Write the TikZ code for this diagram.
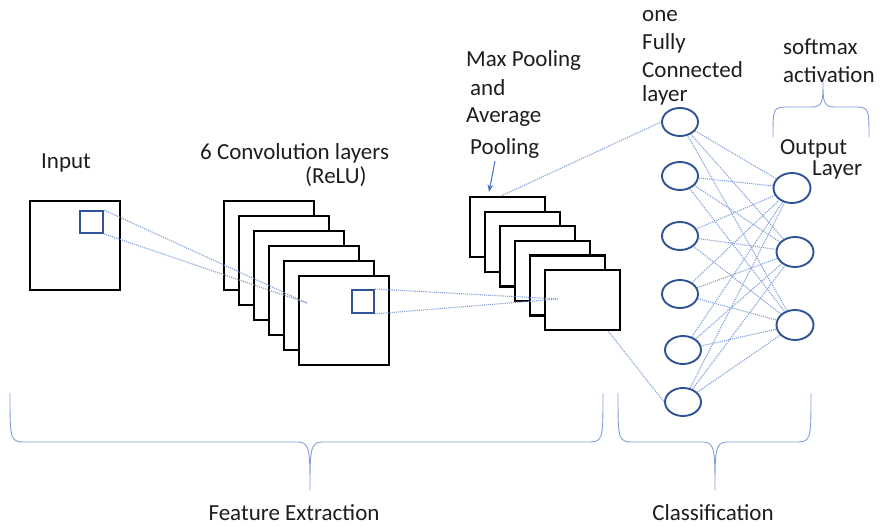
\documentclass[tikz,border=0pt]{standalone}
\usepackage{fontspec}
\setmainfont{Carlito}
\usepackage{xcolor}
\definecolor{cnndark}{RGB}{47,84,150}
\definecolor{cnnlight}{RGB}{130,160,215}
\definecolor{cnnarrow}{RGB}{68,114,196}
\definecolor{cnntext}{RGB}{30,30,30}
\usepackage{tikz}
\usetikzlibrary{shapes.geometric,arrows.meta,positioning,calc}

\begin{document}
\begin{tikzpicture}[
  x={(1pt,0)}, y={(0,-1pt)},
  >=Stealth,
  font=\fontsize{23}{27}\selectfont,
  lbl/.style={anchor=west, inner sep=0pt, text=cnntext},
  mapbox/.style={draw=black, line width=2.3pt, fill=white, anchor=north west, inner sep=0pt},
  window/.style={draw=cnndark, line width=1.9pt, anchor=north west, inner sep=0pt},
  neuron/.style={ellipse, draw=cnndark, line width=1.9pt, minimum width=36pt, minimum height=28pt, inner sep=0pt},
  link/.style={cnnlight, line width=1.1pt, densely dotted},
  brace/.style={cnnlight, line width=0.9pt}
]
\useasboundingbox (0,0) rectangle (882,526);

% Input image
\node[lbl] (inlbl) at (41,163) {Input};
\node[mapbox, minimum width=90pt, minimum height=89pt] (input) at (29,200) {};
\node[window, minimum width=23pt, minimum height=22pt] (inwin) at (79,210) {};

% Convolution stack
\node[lbl] (convlbl) at (200,153) {6 Convolution layers};
\node[lbl] (relulbl) at (305,177) {(ReLU)};
\foreach \i in {0,...,5}
  \node[mapbox, minimum width=90pt, minimum height=89pt] (conv\i) at ({223+15*\i},{200+15*\i}) {};
\node[window, minimum width=22pt, minimum height=23pt] (convwin) at (351,289) {};
\coordinate (convpt) at (307,303);
\draw[link] (inwin.north east) -- (convpt);
\draw[link] (inwin.south east) -- (convpt);

% Pooling stack
\node[lbl] (poollbl1) at (466,60) {Max Pooling};
\node[lbl] (poollbl2) at (470,88) {and};
\node[lbl] (poollbl3) at (466,117) {Average};
\node[lbl] (poollbl4) at (470,148) {Pooling};
\foreach \i in {0,...,5}
  \node[mapbox, minimum width=75pt, minimum height=60pt] (pool\i) at ({469+15*\i},{196+14.6*\i}) {};
\coordinate (poolpt) at (558,299);
\draw[link] (convwin.north east) -- (poolpt);
\draw[link] (convwin.south east) -- (poolpt);
\draw[->, cnnarrow, line width=1pt] ($(poollbl4.south west)+(25,3)$) -- ($(pool0.north west)+(20,-4)$);

% Fully connected layer
\node[lbl] (fclbl1) at (642,16) {one};
\node[lbl] (fclbl2) at (642,43) {Fully};
\node[lbl] (fclbl3) at (642,70) {Connected};
\node[lbl] (fclbl4) at (642,95) {layer};
\node[neuron] (fc1) at (680,122) {};
\node[neuron] (fc2) at (680,176) {};
\node[neuron] (fc3) at (680,236) {};
\node[neuron] (fc4) at (680,294) {};
\node[neuron] (fc5) at (683,350) {};
\node[neuron] (fc6) at (683,402) {};
\draw[link] ($(pool0.north west)+(32,0)$) -- (fc1.west);
\draw[link] ($(pool5.south east)+(-13,0)$) -- (fc6.west);

% Output layer
\node[lbl] (smlbl1) at (783,47) {softmax};
\node[lbl] (smlbl2) at (783,75) {activation};
\node[lbl] (outlbl1) at (780,149) {Output};
\node[lbl] (outlbl2) at (812,170) {Layer};
\node[neuron, minimum width=37pt, minimum height=30pt] (out1) at (792,188) {};
\node[neuron, minimum width=37pt, minimum height=30pt] (out2) at (795,252) {};
\node[neuron, minimum width=37pt, minimum height=30pt] (out3) at (795,325) {};
\foreach \i in {1,...,6}
  \foreach \j in {1,2,3}
    \draw[link] (fc\i) -- (out\j);

% Braces
\draw[brace] (773,137) .. controls (773,107) .. (790,107) -- (812,107)
  .. controls (823,107) and (823,100) .. (823,82)
  .. controls (823,100) and (823,107) .. (834,107) -- (852,107)
  .. controls (869,107) .. (869,137);
\draw[brace] (10,393) .. controls (10,442) .. (27,442) -- (298,442)
  .. controls (310,442) and (310,452) .. (310,490)
  .. controls (310,452) and (310,442) .. (322,442) -- (586,442)
  .. controls (603,442) .. (603,393);
\draw[brace] (618,393) .. controls (618,442) .. (635,442) -- (703,442)
  .. controls (715,442) and (715,452) .. (715,490)
  .. controls (715,452) and (715,442) .. (727,442) -- (794,442)
  .. controls (811,442) .. (811,393);
\node[text=cnntext] (featlbl) at (294,513) {Feature Extraction};
\node[text=cnntext] (clslbl) at (713,513) {Classification};
\end{tikzpicture}
\end{document}
